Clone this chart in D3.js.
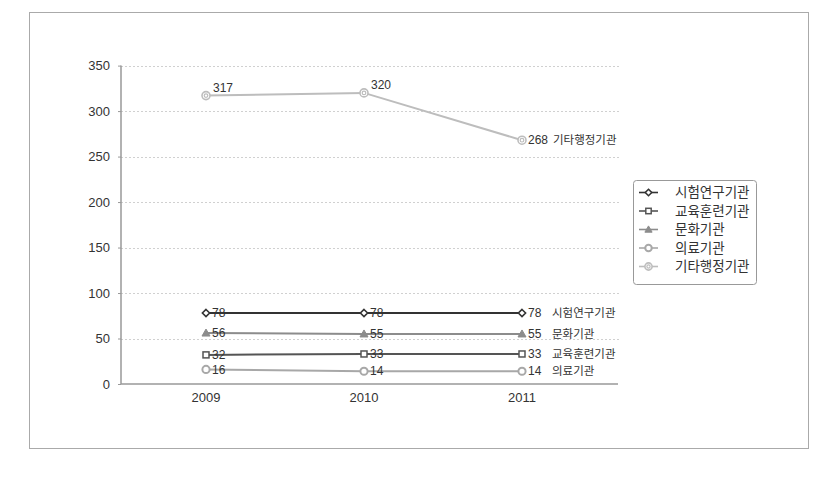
<!DOCTYPE html>
<html><head><meta charset="utf-8">
<script src="https://cdn.jsdelivr.net/npm/d3@7"></script>
<style>
body{margin:0;background:#fff;}
text{font-family:"Liberation Sans","Noto Sans CJK KR",sans-serif;}
.kr{font-family:"Noto Sans CJK KR",sans-serif;}
</style></head>
<body><svg id="c" width="823" height="490"></svg>
<script>
const years = ["2009","2010","2011"];
const seriesNames = ["시험연구기관","교육훈련기관","문화기관","의료기관","기타행정기관"];
const researchVals = [78,78,78];
const trainingVals = [32,33,33];
const cultureVals = [56,55,55];
const medicalVals = [16,14,14];
const adminVals = [317,320,268];
const yTicks = [0,50,100,150,200,250,300,350];

const seriesVals = [researchVals, trainingVals, cultureVals, medicalVals, adminVals];
const colors = ["#333333","#555555","#8c8c8c","#a8a8a8","#bdbdbd"];
const markers = ["diamond","square","triangle","circle","double"];

const svg = d3.select("#c");
svg.append("rect").attr("x",29.5).attr("y",12.5).attr("width",779).attr("height",436)
  .attr("fill","#fff").attr("stroke","#aaa").attr("stroke-width",1);

const x = d3.scaleBand().domain(years).range([127,601]);
const y = d3.scaleLinear().domain([0,350]).range([384,65.6]);
const cx = d => x(d)+x.bandwidth()/2;

// gridlines
svg.append("g").selectAll("line").data(yTicks.filter(t=>t>0)).join("line")
  .attr("x1",121).attr("x2",620).attr("y1",d=>Math.round(y(d))+0.5).attr("y2",d=>Math.round(y(d))+0.5)
  .attr("stroke","#d0d0d0").attr("stroke-dasharray","2,2").attr("stroke-width",1);

// y axis
const yAxis = d3.axisLeft(y).tickValues(yTicks).tickSize(3).tickPadding(8);
const ga = svg.append("g").attr("transform","translate(121,0)").call(yAxis);
ga.select(".domain").attr("stroke","#999").attr("stroke-width",1.5).attr("d","M0,384V65.6");
ga.selectAll(".tick line").attr("stroke","#999");
ga.selectAll(".tick text").attr("fill","#333").style("font-size","13px");

// x axis
const xAxis = d3.axisBottom(x).tickSize(0).tickPadding(9);
const gx = svg.append("g").attr("transform","translate(0,384)").call(xAxis);
gx.select(".domain").attr("d","M121,0H618").attr("stroke","#999").attr("stroke-width",1.5);
gx.selectAll(".tick text").attr("fill","#333").style("font-size","13px");

function drawMarker(g, type, color, px, py, s){
  s = s||1;
  if(type==="diamond"){
    g.append("path").attr("d",`M${px},${py-3.6*s}L${px+3.6*s},${py}L${px},${py+3.6*s}L${px-3.6*s},${py}Z`)
      .attr("fill","#fff").attr("stroke",color).attr("stroke-width",1.6);
  } else if(type==="square"){
    g.append("rect").attr("x",px-3*s).attr("y",py-3*s).attr("width",6*s).attr("height",6*s)
      .attr("fill","#fff").attr("stroke",color).attr("stroke-width",1.5);
  } else if(type==="triangle"){
    g.append("path").attr("d",`M${px},${py-4*s}L${px+4*s},${py+3*s}L${px-4*s},${py+3*s}Z`)
      .attr("fill",color).attr("stroke",color).attr("stroke-width",1);
  } else if(type==="circle"){
    g.append("circle").attr("cx",px).attr("cy",py).attr("r",3.6*s)
      .attr("fill","#fff").attr("stroke",color).attr("stroke-width",2);
  } else {
    g.append("circle").attr("cx",px).attr("cy",py).attr("r",4*s)
      .attr("fill","#fff").attr("stroke",color).attr("stroke-width",1.6);
    g.append("circle").attr("cx",px).attr("cy",py).attr("r",1.8*s)
      .attr("fill","#fff").attr("stroke",color).attr("stroke-width",1.2);
  }
}

const line = d3.line().x((d,i)=>cx(years[i])).y(d=>y(d));
seriesVals.forEach((vals,si)=>{
  const g = svg.append("g");
  g.append("path").attr("d",line(vals)).attr("fill","none").attr("stroke",colors[si]).attr("stroke-width",2);
  let lastEnd = 0;
  vals.forEach((v,i)=>{
    drawMarker(g, markers[si], colors[si], cx(years[i]), y(v));
    const top = si===4 && i<2;
    const t = g.append("text").attr("x",cx(years[i])+(top?7:6)).attr("y",y(v)+(top?-8:0))
      .attr("dy","0.35em").attr("fill","#333").style("font-size","12px").text(v);
    if(i===2) lastEnd = cx(years[i])+6+t.node().getComputedTextLength();
  });
  const nx = si===4 ? lastEnd+5 : 552;
  g.append("text").attr("class","kr").attr("x",nx).attr("y",y(vals[2])).attr("dy","0.35em")
    .attr("fill","#333").style("font-size","11.5px").text(seriesNames[si]);
});

// legend
const lg = svg.append("g");
lg.append("rect").attr("x",633.5).attr("y",180.5).attr("width",123).attr("height",104).attr("rx",3)
  .attr("fill","#fff").attr("stroke","#999").attr("stroke-width",1);
seriesNames.forEach((n,i)=>{
  const ly = 192.5 + i*18.5;
  lg.append("line").attr("x1",639).attr("x2",658).attr("y1",ly).attr("y2",ly)
    .attr("stroke",colors[i]).attr("stroke-width",1.6);
  drawMarker(lg, markers[i], colors[i], 648.5, ly, 0.9);
  lg.append("text").attr("class","kr").attr("x",675).attr("y",ly).attr("dy","0.35em").attr("fill","#333")
    .style("font-size","13.5px").text(n);
});
</script></body></html>
